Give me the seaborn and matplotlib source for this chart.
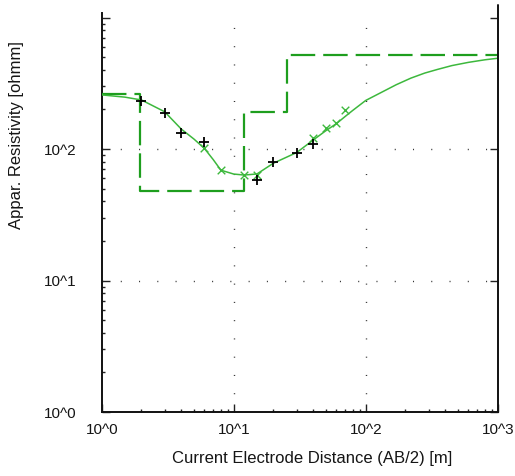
import matplotlib
matplotlib.use("Agg")
import matplotlib.pyplot as plt
from matplotlib.lines import Line2D
from matplotlib.ticker import FixedLocator, NullFormatter
import pandas as pd
import seaborn as sns

# Measured apparent resistivity (black crosses)
ab2_meas = [2, 3, 4, 6, 15, 20, 30, 40]
rho_meas = [233, 187, 132, 114, 58, 80, 93, 109]

# Second sounding set (green x markers)
ab2_alt = [6, 8, 12, 15, 40, 50, 60, 70]
rho_alt = [101, 69, 63, 63, 121, 144, 159, 198]

# Calculated response curve of the layered model
curve_ab2 = [1, 1.5, 2, 3, 4, 5, 6, 7, 8, 10, 12, 15, 20, 30, 40, 50, 60, 70,
             80, 100, 130, 170, 220, 280, 350, 450, 600, 800, 1000]
curve_rho = [258, 248, 236, 192, 142, 119, 101, 83, 69, 64.5, 63.4, 64.6, 78,
             94, 117, 138, 156, 177, 197, 234, 268, 308, 346, 378, 403, 431,
             456, 477, 490]

# Layered earth model: layer top depth and layer resistivity
layer_top = [1, 1.95, 12.0, 25.5, 1000]
layer_rho = [260, 48, 192, 516, 516]

x_ticks = [1, 10, 100, 1000]
x_tick_labels = ["10^0", "10^1", "10^2", "10^3"]
y_ticks = [1, 10, 100, 1000]
y_tick_labels = ["10^0", "10^1", "10^2", ""]

sns.set_style("white")
plt.rcParams["font.family"] = ["Liberation Sans", "DejaVu Sans"]

GREEN_MODEL = "#1e9e1e"
GREEN_CURVE = "#3db83d"
TEXT = "#151515"

fig = plt.figure(figsize=(5.15, 4.76), dpi=100)
ax = fig.add_axes([101.7 / 515, 64 / 476, 396 / 515, 399.3 / 476])
ax.set_xscale("log")
ax.set_yscale("log")
ax.set_xlim(1, 1000)
ax.set_ylim(1, 1088)

# dotted decade grid
for gx in (10, 100):
    ax.axvline(gx, color="#333333", lw=1.0, linestyle=(0, (0.75, 12.4)), zorder=1)
for gy in (10, 100):
    ax.axhline(gy, color="#333333", lw=1.0, linestyle=(0, (0.75, 12.4)), zorder=1)

model_df = pd.DataFrame({"ab2": layer_top, "rho": layer_rho})
curve_df = pd.DataFrame({"ab2": curve_ab2, "rho": curve_rho})
meas_df = pd.DataFrame({"ab2": ab2_meas, "rho": rho_meas})
alt_df = pd.DataFrame({"ab2": ab2_alt, "rho": rho_alt})

sns.lineplot(data=model_df, x="ab2", y="rho", ax=ax, color=GREEN_MODEL,
             lw=1.6, drawstyle="steps-post", linestyle=(0, (11.0, 3.6)),
             estimator=None, sort=False, zorder=3)
sns.lineplot(data=curve_df, x="ab2", y="rho", ax=ax, color=GREEN_CURVE,
             lw=1.1, estimator=None, sort=False, zorder=4)
sns.scatterplot(data=alt_df, x="ab2", y="rho", ax=ax, marker="x",
                color=GREEN_CURVE, s=30, linewidth=1.0, zorder=5)
sns.scatterplot(data=meas_df, x="ab2", y="rho", ax=ax, marker="+",
                color="black", s=48, linewidth=1.3, zorder=6)

ax.set_xlabel("")
ax.set_ylabel("")

# ticks
ax.xaxis.set_major_locator(FixedLocator(x_ticks))
ax.yaxis.set_major_locator(FixedLocator(y_ticks))
minor = [m * 10 ** d for d in range(0, 3) for m in range(2, 10)]
ax.xaxis.set_minor_locator(FixedLocator(minor))
ax.yaxis.set_minor_locator(FixedLocator(minor))
ax.xaxis.set_minor_formatter(NullFormatter())
ax.yaxis.set_minor_formatter(NullFormatter())
ax.set_xticklabels(x_tick_labels)
ax.set_yticklabels(y_tick_labels)

ax.tick_params(which="major", direction="in", length=6, width=1.0,
               colors="#222222", labelsize=11, labelcolor=TEXT,
               top=False, right=True, bottom=True, left=True)
ax.tick_params(which="minor", direction="in", length=2.5, width=1.0,
               colors="#222222", top=False, right=False, bottom=True, left=True)
ax.tick_params(axis="x", which="major", pad=8)
ax.tick_params(axis="y", which="major", pad=18.5)

for side in ("left", "bottom"):
    ax.spines[side].set_linewidth(1.4)
    ax.spines[side].set_color("#111111")
ax.spines["top"].set_visible(False)
ax.spines["right"].set_visible(False)
# right frame line, running slightly above the plotting area
ax.add_line(Line2D([1, 1], [0, 1.019], transform=ax.transAxes, color="#111111",
                   lw=1.4, clip_on=False, zorder=7))

fig.text(312.5 / 515, 1 - 459 / 476, "Current Electrode Distance (AB/2) [m]",
         ha="center", va="center", fontsize=12, color=TEXT)
fig.text(16.5 / 515, 1 - 135 / 476, "Appar. Resistivity [ohmm]",
         ha="center", va="center", rotation=90, fontsize=12, color=TEXT)

fig.savefig("out.png", dpi=100)
